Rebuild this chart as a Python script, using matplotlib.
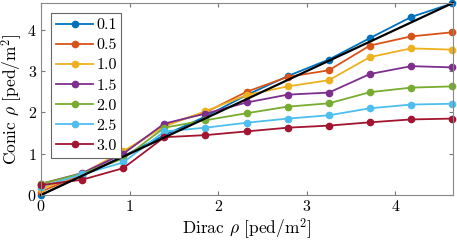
import numpy as np
import matplotlib
matplotlib.use('Agg')
import matplotlib.pyplot as plt

# 数据
dirac = [0.0, 0.464, 0.929, 1.393, 1.857, 2.321, 2.786, 3.250, 3.714, 4.179, 4.643]
labels = ['0.1', '0.5', '1.0', '1.5', '2.0', '2.5', '3.0']
conic = [
    [0.00, 0.47, 0.94, 1.45, 1.90, 2.42, 2.88, 3.28, 3.80, 4.31, 4.64],
    [0.08, 0.50, 1.02, 1.70, 2.00, 2.50, 2.86, 3.02, 3.62, 3.84, 3.94],
    [0.14, 0.52, 1.06, 1.66, 2.03, 2.42, 2.63, 2.78, 3.34, 3.55, 3.52],
    [0.27, 0.53, 1.00, 1.73, 1.97, 2.24, 2.43, 2.48, 2.93, 3.12, 3.09],
    [0.27, 0.52, 0.88, 1.63, 1.81, 1.98, 2.14, 2.22, 2.49, 2.60, 2.63],
    [0.20, 0.50, 0.79, 1.54, 1.63, 1.75, 1.85, 1.93, 2.10, 2.19, 2.21],
    [0.24, 0.37, 0.65, 1.40, 1.45, 1.54, 1.63, 1.68, 1.76, 1.83, 1.85],
]
ref_line = [0.0, 4.65]
colors = ['#0072BD', '#D95319', '#EDB120', '#7E2F8E', '#77AC30', '#4DBEEE', '#A2142F']

plt.rcParams['font.family'] = 'serif'
plt.rcParams['font.serif'] = ['cmr10', 'DejaVu Serif']
plt.rcParams['mathtext.fontset'] = 'cm'
plt.rcParams['axes.formatter.use_mathtext'] = True
plt.rcParams['font.size'] = 11

fig = plt.figure(figsize=(4.57, 2.47), dpi=100)
ax = fig.add_axes([0.0897, 0.2105, 0.9013, 0.7775])

for lab, col, ys in zip(labels, colors, conic):
    ax.plot(dirac, ys, '-o', color=col, label=lab, linewidth=1.3,
            markersize=4.5, clip_on=False)
ax.plot(ref_line, ref_line, 'k-', linewidth=1.6, clip_on=False)

ax.set_xlim(0, 4.65)
ax.set_ylim(0, 4.65)
ax.set_xticks([0, 1, 2, 3, 4])
ax.set_yticks([0, 1, 2, 3, 4])
ax.tick_params(direction='in', top=True, right=True, length=3,
               color='#777777', labelsize=11.5, pad=3)
for s in ax.spines.values():
    s.set_color('#888888')
    s.set_linewidth(0.8)

ax.set_xlabel(r'Dirac $\rho$ [ped/m$^2$]', fontsize=12.5, labelpad=1)
ax.set_ylabel(r'Conic $\rho$ [ped/m$^2$]', fontsize=12.5, labelpad=2)

leg = ax.legend(loc='upper left', fontsize=11.5, handlelength=2.3,
                labelspacing=0.37, borderpad=0.3, handletextpad=0.2,
                fancybox=False, framealpha=1, borderaxespad=0.65)
leg.get_frame().set_edgecolor('#666666')
leg.get_frame().set_linewidth(0.8)

fig.savefig('out.png', dpi=100)
